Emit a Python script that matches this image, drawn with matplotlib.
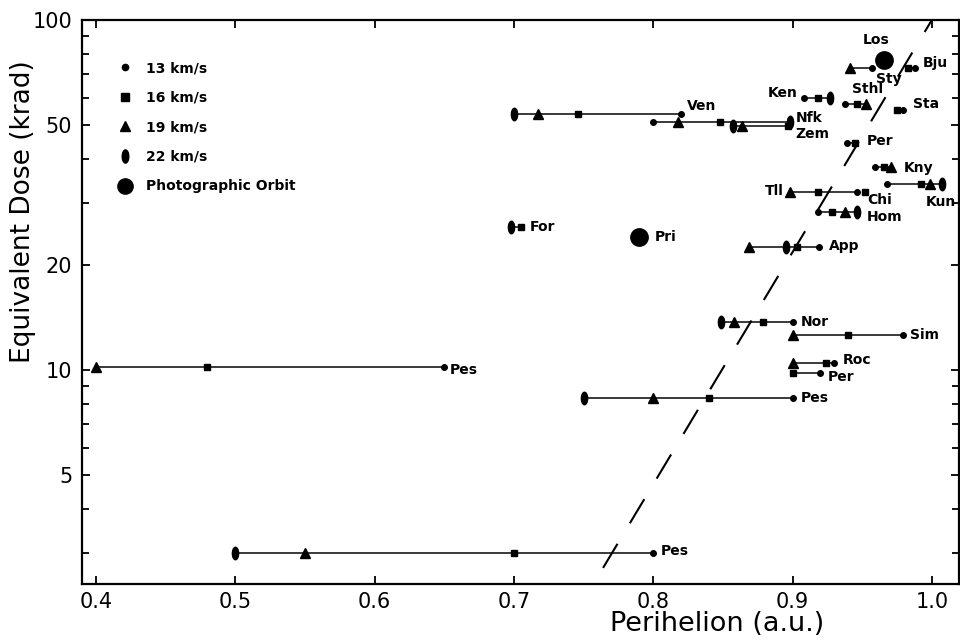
import numpy as np
import matplotlib
matplotlib.use("Agg")
import matplotlib.pyplot as plt
from matplotlib.path import Path
from matplotlib.lines import Line2D
from matplotlib.ticker import FixedLocator, FixedFormatter, NullFormatter
import matplotlib.transforms as mtransforms

nan = np.nan

# ---------------- data ----------------
comet_names = ["Pes", "Pes", "Pes", "Nor", "Sim", "Roc", "Per", "App", "Hom", "For",
               "Ven", "Nfk", "Zem", "Ken", "Sthl", "Sty", "Bju", "Sta", "Per", "Kny",
               "Tll", "Chi", "Kun"]
dose = [10.2, 3.0, 8.3, 13.7, 12.6, 10.5, 9.8, 22.4, 28.3, 25.6,
        54.0, 51.0, 49.8, 60.0, 57.5, 73.0, 73.0, 55.5, 44.5, 38.0,
        32.3, 32.3, 34.0]
# perihelion (a.u.) for each assumed entry velocity
q_13 = [0.65, 0.80, 0.90, 0.90, 0.979, 0.93, 0.92, 0.919, 0.918, nan,
        0.82, 0.80, nan, 0.908, 0.938, 0.957, 0.988, 0.979, 0.939, 0.959,
        0.946, nan, 0.968]
q_16 = [0.48, 0.70, 0.84, 0.879, 0.94, 0.924, 0.90, 0.903, 0.928, 0.705,
        0.746, 0.848, 0.897, 0.918, 0.946, nan, 0.983, 0.975, 0.945, 0.966,
        0.918, 0.952, 0.992]
q_19 = [0.40, 0.55, 0.80, 0.858, 0.90, 0.90, nan, 0.869, 0.938, nan,
        0.717, 0.818, 0.864, nan, 0.953, 0.941, nan, nan, nan, 0.971,
        0.898, nan, 0.999]
q_22 = [nan, 0.50, 0.75, 0.849, nan, nan, nan, 0.895, 0.946, 0.698,
        0.70, 0.898, 0.857, 0.927, nan, nan, nan, nan, nan, nan,
        nan, nan, 1.007]

photo_names = ["Pri", "Los"]
photo_q = [0.79, 0.966]
photo_dose = [24.0, 77.0]

trend_q = [0.764, 1.0]
trend_dose = [2.72, 100.0]

velocity_labels = ["13 km/s", "16 km/s", "19 km/s", "22 km/s", "Photographic Orbit"]

# ---------------- styles ----------------
# label offsets in pixels relative to right-most point of each comet
label_style = [
    (6, -3, "left"), (8, 2, "left"), (8, 0, "left"), (8, 0, "left"), (7, 0, "left"),
    (8, 3, "left"), (7, -4, "left"), (10, 1, "left"), (10, -5, "left"), (9, 0, "left"),
    (6, 8, "left"), (6, 4, "left"), (7, -8, "left"), (-33, 5, "right"), (-14, 15, "left"),
    (4, -11, "left"), (8, 5, "left"), (10, 6, "left"), (12, 2, "left"), (12, -1, "left"),
    (-73, 1, "right"), (2, -8, "left"), (-16, -18, "left"),
]
photo_label_style = [(15, 0, "left"), (-8, 20, "center")]

plt.rcParams["font.family"] = ["DejaVu Sans"]

fig = plt.figure(figsize=(9.6, 6.43), dpi=100)
ax = fig.add_axes([82 / 960, 1 - 584 / 643, 877 / 960, 564 / 643])
ax.set_yscale("log")
ax.set_xlim(0.39, 1.0195)
ax.set_ylim(2.447, 100)

ellipse = Path.unit_circle().transformed(mtransforms.Affine2D().scale(0.5, 1.0))
mk = {"13": dict(marker="o", ms=4.0), "16": dict(marker="s", ms=5.0),
      "19": dict(marker="^", ms=7.0), "22": dict(marker=ellipse, ms=9.0)}

line_col = "#3a3a3a"
for i, name in enumerate(comet_names):
    qs = np.array([q_13[i], q_16[i], q_19[i], q_22[i]], dtype=float)
    valid = qs[~np.isnan(qs)]
    d = dose[i]
    if len(valid) > 1:
        ax.plot([valid.min(), valid.max()], [d, d], color=line_col, lw=1.4, zorder=1)
    for key, arr in zip(["13", "16", "19", "22"], [q_13, q_16, q_19, q_22]):
        if not np.isnan(arr[i]):
            ax.plot([arr[i]], [d], ls="none", color="black", zorder=3, **mk[key])
    dx, dy, ha = label_style[i]
    ax.annotate(name, (valid.max(), d), xytext=(dx, dy), textcoords="offset pixels",
                ha=ha, va="center", fontsize=10, fontweight="bold", zorder=4)

ax.plot(photo_q, photo_dose, ls="none", marker="o", ms=12.5, color="black", zorder=3)
for i, name in enumerate(photo_names):
    dx, dy, ha = photo_label_style[i]
    ax.annotate(name, (photo_q[i], photo_dose[i]), xytext=(dx, dy), textcoords="offset pixels",
                ha=ha, va="center", fontsize=10, fontweight="bold", zorder=4)

ax.plot(trend_q, trend_dose, color="black", lw=1.5, dashes=(13.5, 11.5), zorder=2)

# legend
handles = [
    Line2D([], [], ls="none", color="black", marker="o", ms=4.5),
    Line2D([], [], ls="none", color="black", marker="s", ms=5.5),
    Line2D([], [], ls="none", color="black", marker="^", ms=7.5),
    Line2D([], [], ls="none", color="black", marker=ellipse, ms=9.5),
    Line2D([], [], ls="none", color="black", marker="o", ms=11),
]
leg = ax.legend(handles, velocity_labels, loc="upper left", bbox_to_anchor=(0.041, 0.927),
                frameon=False, borderpad=0, borderaxespad=0, handlelength=1.0,
                handletextpad=1.05, labelspacing=1.12, numpoints=1,
                prop=dict(family="DejaVu Sans", weight="bold", size=10))

# axes & ticks
ax.xaxis.set_major_locator(FixedLocator([0.4, 0.5, 0.6, 0.7, 0.8, 0.9, 1.0]))
ax.xaxis.set_major_formatter(FixedFormatter(["0.4", "0.5", "0.6", "0.7", "0.8", "0.9", "1.0"]))
ax.yaxis.set_major_locator(FixedLocator([5, 10, 20, 50, 100]))
ax.yaxis.set_major_formatter(FixedFormatter(["5", "10", "20", "50", "100"]))
ax.yaxis.set_minor_locator(FixedLocator([3, 4, 6, 7, 8, 9, 30, 40, 60, 70, 80, 90]))
ax.yaxis.set_minor_formatter(NullFormatter())
ax.tick_params(which="both", direction="in", top=True, right=True, width=1.3)
ax.tick_params(which="major", length=6, labelsize=15)
ax.tick_params(which="minor", length=5)
ax.tick_params(axis="x", pad=6)
ax.tick_params(axis="y", pad=7)
for s in ax.spines.values():
    s.set_linewidth(1.6)

ax.set_xlabel("Perihelion (a.u.)", fontsize=19.5)
ax.xaxis.set_label_coords(0.724, -0.048)
ax.set_ylabel("Equivalent Dose (krad)", fontsize=19)
ax.yaxis.set_label_coords(-0.052, 0.661)

fig.savefig("out.png", dpi=100)
